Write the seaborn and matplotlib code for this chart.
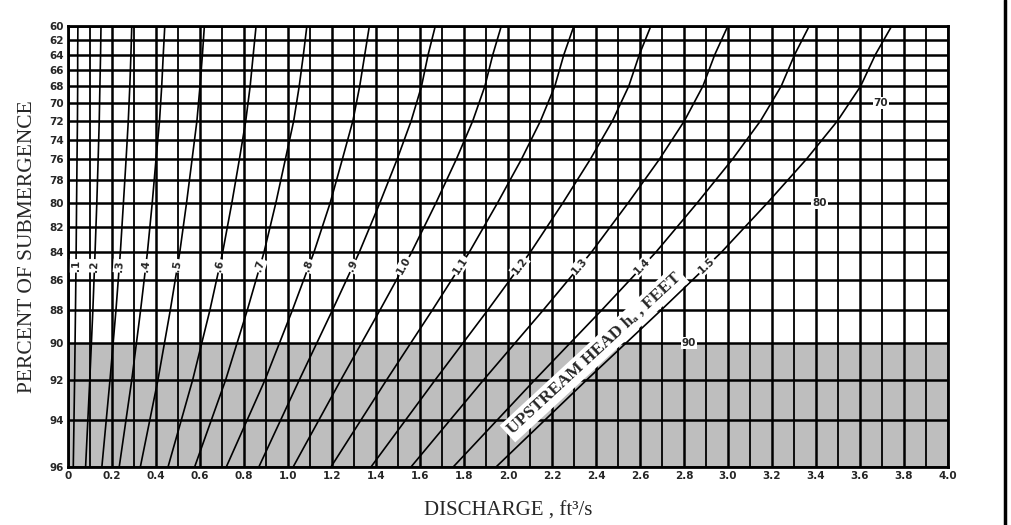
import numpy as np
import pandas as pd
import matplotlib
matplotlib.use("Agg")
import matplotlib.pyplot as plt
import seaborn as sns
from matplotlib.lines import Line2D
from matplotlib.ticker import FixedLocator, NullLocator

# ---------------- data ----------------
submergence = [60, 64, 68, 72, 76, 80, 84, 88, 92, 96]   # percent of submergence
head_labels = [".1", ".2", ".3", ".4", ".5", ".6", ".7", ".8", ".9",
               "1.0", "1.1", "1.2", "1.3", "1.4", "1.5"]   # upstream head h_a, ft

q_h01 = [0.045, 0.044, 0.044, 0.043, 0.041, 0.039, 0.037, 0.034, 0.030, 0.024]
q_h02 = [0.150, 0.148, 0.145, 0.142, 0.137, 0.131, 0.123, 0.113, 0.099, 0.080]
q_h03 = [0.290, 0.286, 0.281, 0.274, 0.264, 0.252, 0.238, 0.218, 0.191, 0.154]
q_h04 = [0.440, 0.433, 0.426, 0.416, 0.400, 0.383, 0.361, 0.330, 0.290, 0.233]
q_h05 = [0.620, 0.611, 0.600, 0.586, 0.564, 0.539, 0.508, 0.465, 0.409, 0.329]
q_h06 = [0.855, 0.842, 0.828, 0.808, 0.779, 0.745, 0.703, 0.645, 0.567, 0.455]
q_h07 = [1.086, 1.070, 1.051, 1.026, 0.988, 0.945, 0.891, 0.815, 0.717, 0.576]
q_h08 = [1.370, 1.349, 1.326, 1.295, 1.247, 1.192, 1.118, 1.020, 0.896, 0.720]
q_h09 = [1.670, 1.637, 1.607, 1.560, 1.496, 1.418, 1.324, 1.202, 1.052, 0.868]
q_h10 = [1.970, 1.931, 1.895, 1.840, 1.765, 1.673, 1.562, 1.418, 1.241, 1.024]
q_h11 = [2.300, 2.254, 2.213, 2.148, 2.061, 1.953, 1.824, 1.656, 1.449, 1.196]
q_h12 = [2.650, 2.597, 2.549, 2.475, 2.374, 2.250, 2.101, 1.908, 1.670, 1.378]
q_h13 = [3.000, 2.940, 2.886, 2.802, 2.688, 2.547, 2.379, 2.160, 1.890, 1.560]
q_h14 = [3.370, 3.303, 3.242, 3.148, 3.020, 2.861, 2.672, 2.426, 2.123, 1.752]
q_h15 = [3.745, 3.670, 3.603, 3.498, 3.356, 3.180, 2.970, 2.696, 2.359, 1.947]

x_ticks = [0.0, 0.2, 0.4, 0.6, 0.8, 1.0, 1.2, 1.4, 1.6, 1.8, 2.0,
           2.2, 2.4, 2.6, 2.8, 3.0, 3.2, 3.4, 3.6, 3.8, 4.0]
y_ticks = [60, 62, 64, 66, 68, 70, 72, 74, 76, 78, 80,
           82, 84, 86, 88, 90, 92, 94, 96]
submergence_marks = ["70", "80", "90"]
submergence_mark_values = [70, 80, 90]

series = [q_h01, q_h02, q_h03, q_h04, q_h05, q_h06, q_h07, q_h08,
          q_h09, q_h10, q_h11, q_h12, q_h13, q_h14, q_h15]

rows = []
for lab, qs in zip(head_labels, series):
    for s, q in zip(submergence, qs):
        rows.append({"head": lab, "Q": q, "S": s})
df = pd.DataFrame(rows)

# ---------------- styling ----------------
sns.set_theme(style="white")
plt.rcParams["font.family"] = ["DejaVu Sans"]

fig = plt.figure(figsize=(10.11, 5.25), dpi=100)
ax = fig.add_axes([68 / 1011, 1 - 466.7 / 525, 880 / 1011, 441 / 525])


def fwd(s):
    s = np.asarray(s, dtype=float)
    return -np.log(np.clip(110.0 - s, 1e-6, None))


def inv(t):
    t = np.asarray(t, dtype=float)
    return 110.0 - np.exp(-t)


ax.set_yscale("function", functions=(fwd, inv))
ax.set_xlim(0, 4.0)
ax.set_ylim(96, 60)

# shaded submerged zone
ax.axhspan(90, 96, facecolor="#bebebe", edgecolor="none", zorder=0.2)

# grid
ax.set_axisbelow(True)
ax.xaxis.set_major_locator(FixedLocator(x_ticks))
ax.xaxis.set_minor_locator(FixedLocator(np.arange(0.1, 4.0, 0.2)))
ax.yaxis.set_major_locator(FixedLocator(y_ticks))
ax.yaxis.set_minor_locator(NullLocator())
ax.grid(which="major", axis="both", color="black", lw=1.8)
ax.grid(which="minor", axis="x", color="black", lw=1.3)

ax.set_xticklabels(["0" if v == 0 else f"{v:.1f}" for v in x_ticks],
                   fontsize=7.5, fontweight="bold")
ax.set_yticklabels([str(v) for v in y_ticks], fontsize=7.5, fontweight="bold")
ax.tick_params(axis="both", which="both", length=0, pad=3)

for sp in ax.spines.values():
    sp.set_color("black")
    sp.set_linewidth(2)

# curves
sns.lineplot(data=df, x="Q", y="S", hue="head", units="head", estimator=None,
             sort=False, palette=["black"] * len(head_labels), legend=False,
             lw=1.2, ax=ax, zorder=2)

ax.set_xlabel("DISCHARGE , ft³/s", family=["Liberation Serif", "DejaVu Serif"],
              fontsize=15, labelpad=15)
ax.set_ylabel("PERCENT OF SUBMERGENCE", family=["Liberation Serif", "DejaVu Serif"],
              fontsize=15.5, labelpad=9)

fig.canvas.draw()


def curve_angle(qs, s_lo, s_hi):
    p1 = ax.transData.transform((np.interp(s_lo, submergence, qs), s_lo))
    p2 = ax.transData.transform((np.interp(s_hi, submergence, qs), s_hi))
    return np.degrees(np.arctan2(p1[1] - p2[1], p1[0] - p2[0]))


# head labels on the curves
for lab, qs in zip(head_labels, series):
    s_lab = 85.0
    q_lab = np.interp(s_lab, submergence, qs)
    ang = curve_angle(qs, 84, 86)
    ax.text(q_lab, s_lab, lab, rotation=ang, rotation_mode="anchor",
            ha="center", va="center", fontsize=7.5, fontweight="bold",
            bbox=dict(facecolor="white", edgecolor="none", pad=0.8), zorder=4)

# submergence marks next to the 1.5 curve
mark_offsets = [0.145, 0.236, 0.295]
for lab, s, off in zip(submergence_marks, submergence_mark_values, mark_offsets):
    q = np.interp(s, submergence, q_h15)
    ax.text(q + off, s, lab, ha="center", va="center",
            fontsize=7.5, fontweight="bold",
            bbox=dict(facecolor="white", edgecolor="none", pad=0.6), zorder=4)

# "UPSTREAM HEAD" caption between curves 1.4 and 1.5
s_cap = 90.6
q_cap = 0.5 * (np.interp(s_cap, submergence, q_h14) + np.interp(s_cap, submergence, q_h15)) + 0.04
ang_cap = curve_angle(q_h15, 88, 93)
ax.text(q_cap, s_cap, "UPSTREAM HEAD hₐ , FEET", rotation=ang_cap,
        rotation_mode="anchor", ha="center", va="center",
        family=["Liberation Serif", "DejaVu Serif"], fontweight="bold",
        fontsize=12.5,
        bbox=dict(facecolor="white", edgecolor="none", pad=2.5), zorder=4)

# scan border on the right
fig.add_artist(Line2D([1005 / 1011, 1005 / 1011], [0, 1], color="black",
                      lw=2.5, transform=fig.transFigure))

fig.savefig("out.png", dpi=100, facecolor="white")
